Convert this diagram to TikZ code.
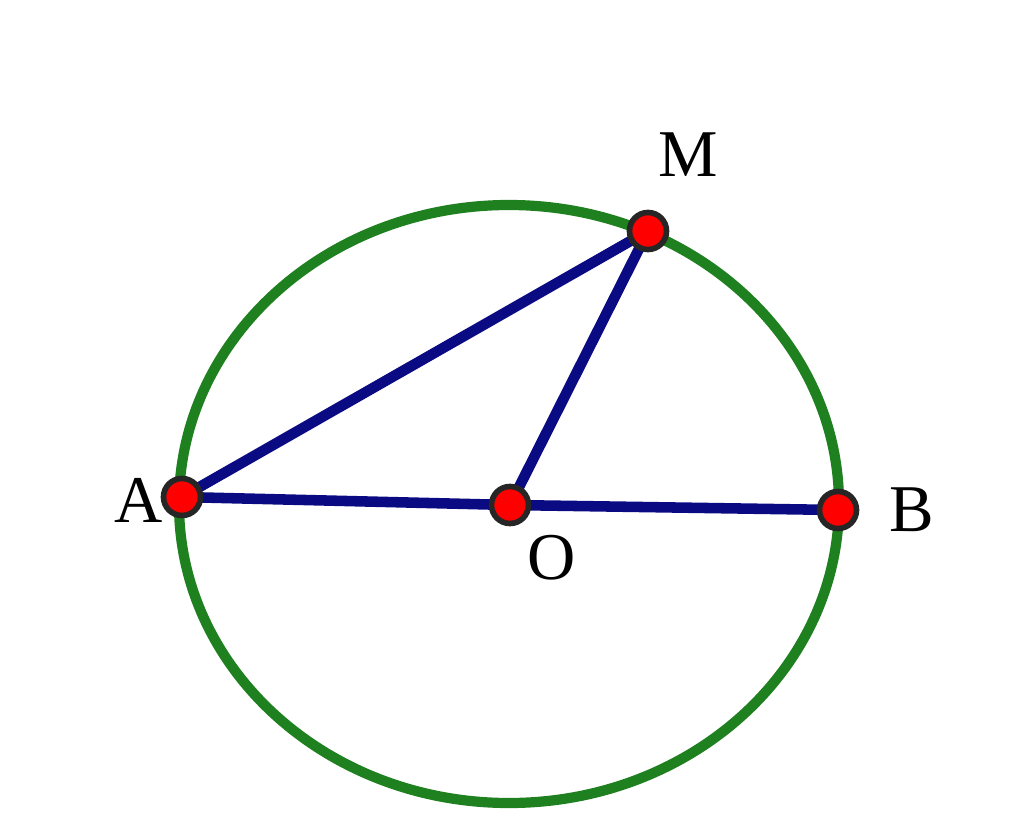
\documentclass[tikz,border=0pt]{standalone}
\usepackage{fontspec}
\setmainfont{Liberation Serif}
\usepackage{xcolor}
\definecolor{circgreen}{RGB}{30,128,30}
\definecolor{segblue}{RGB}{10,10,130}
\tikzset{>=latex,
    pointdot/.style={circle, draw=black!85, fill=red, line width=1.6pt, minimum size=0.37cm, inner sep=0pt},
    seg/.style={draw=segblue, line width=3pt},
    ptlabel/.style={font=\fontsize{19}{21}\selectfont}}

\begin{document}
\begin{tikzpicture}[x=0.01cm, y=-0.01cm]
    \useasboundingbox (0,0) rectangle (1024,815);
    \draw[circgreen, line width=2.9pt] (509,504) ellipse [x radius=330, y radius=299];
    \coordinate (a) at (182,497);
    \coordinate (o) at (510,505);
    \coordinate (b) at (838,510);
    \coordinate (m) at (648,231);
    \draw[seg] (a) -- (o) -- (b);
    \draw[seg] (a) -- (m);
    \draw[seg] (o) -- (m);
    \node[pointdot] at (a) (pa) {};
    \node[pointdot] at (o) (po) {};
    \node[pointdot] at (b) (pb) {};
    \node[pointdot] at (m) (pm) {};
    \node[ptlabel] at (139,500) (la) {A};
    \node[ptlabel] at (552,558) (lo) {O};
    \node[ptlabel] at (912,510) (lb) {B};
    \node[ptlabel] at (688,155) (lm) {M};
\end{tikzpicture}
\end{document}
